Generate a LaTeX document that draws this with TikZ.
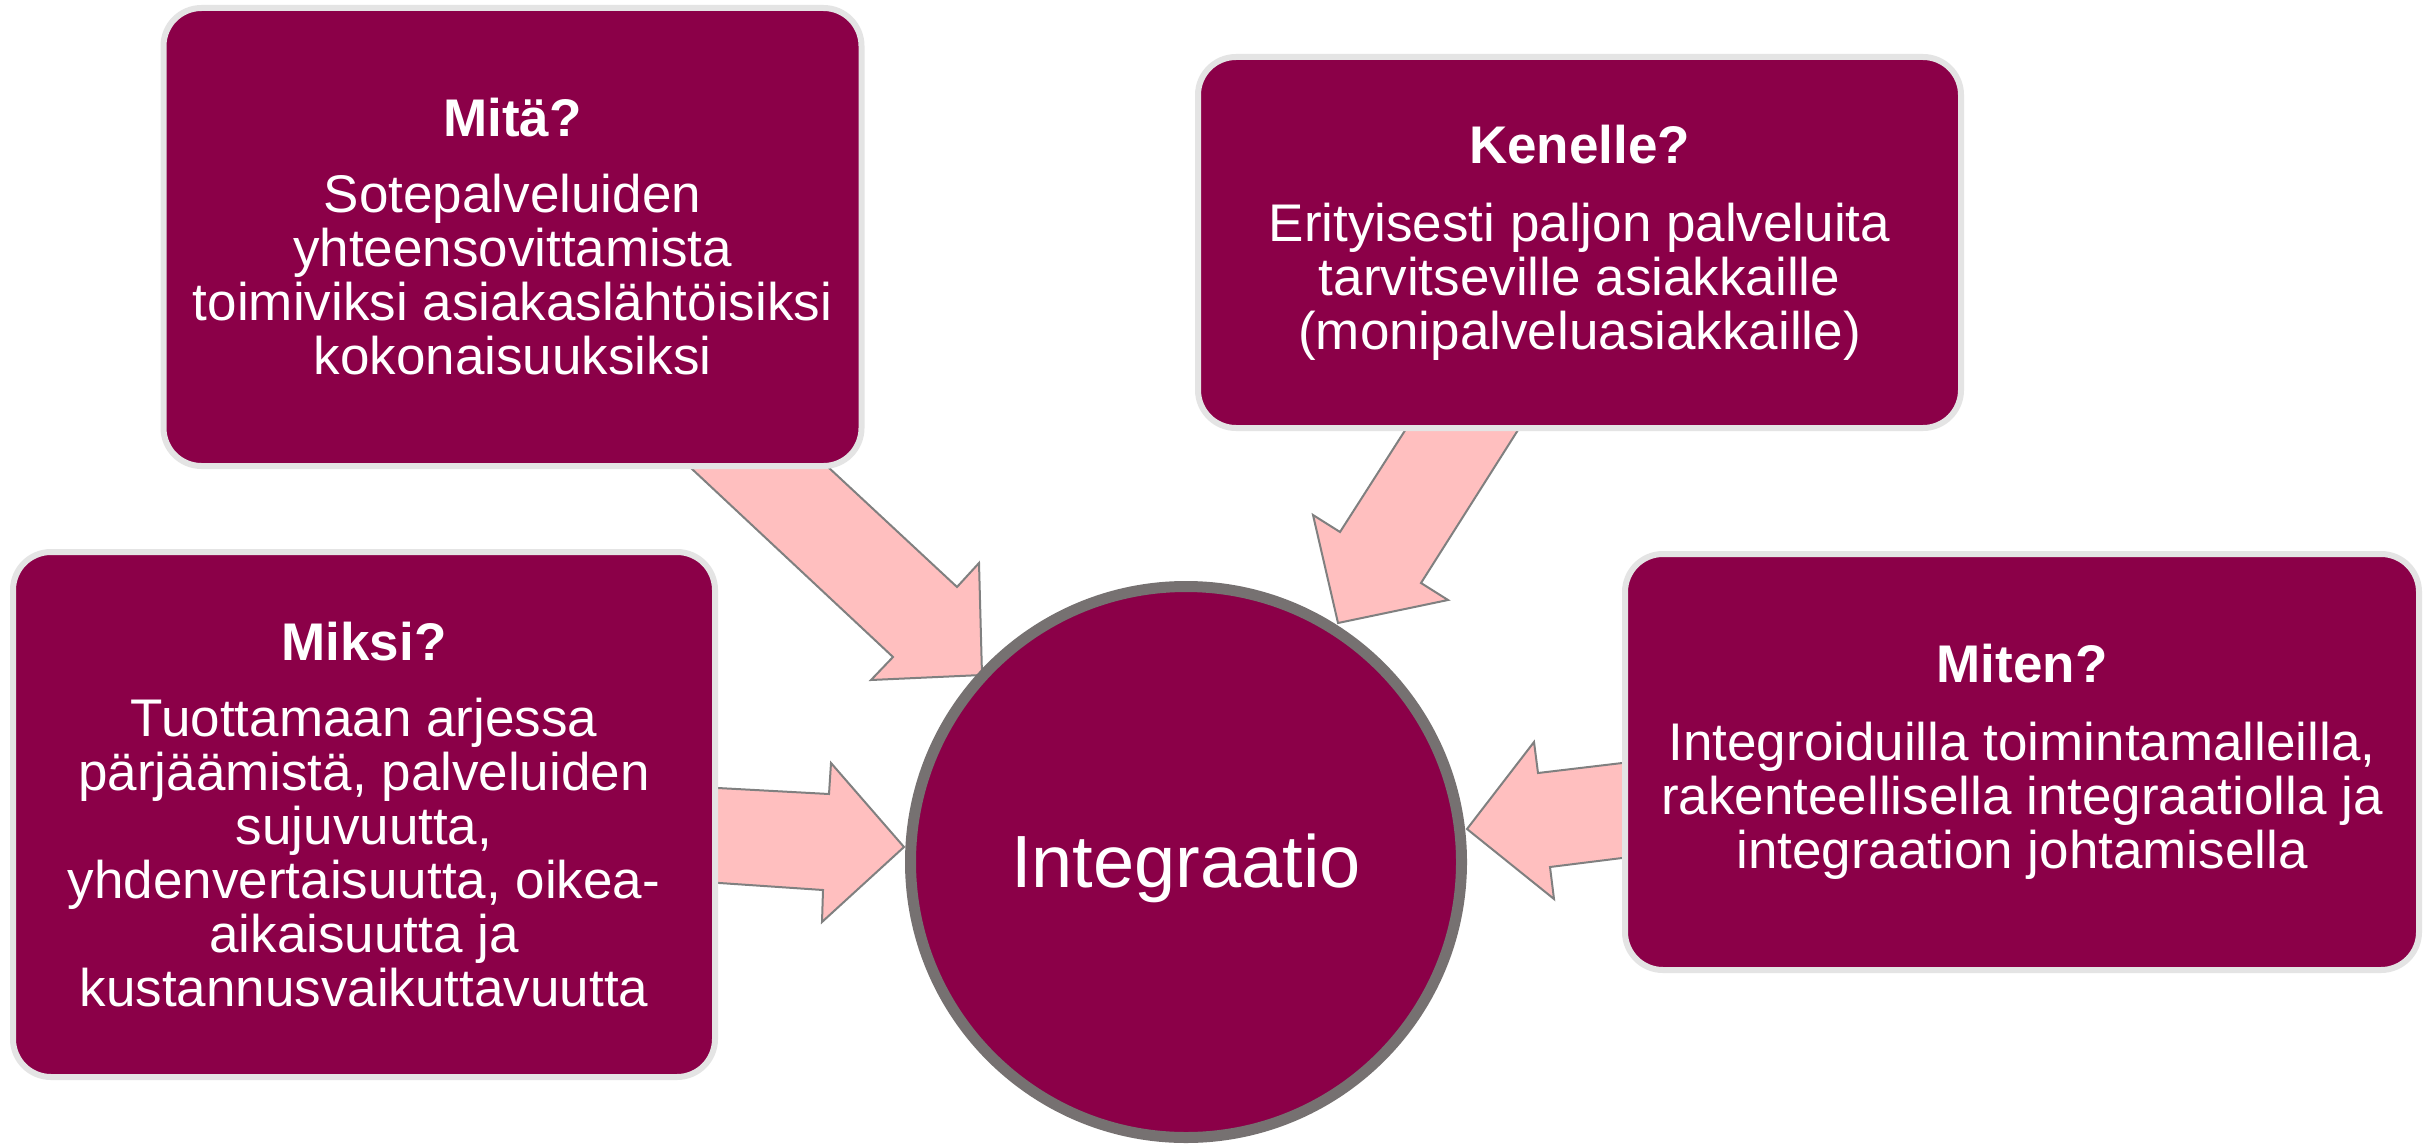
\documentclass[tikz,border=0pt]{standalone}
\usepackage{fontspec}
\setmainfont{Liberation Sans}
\definecolor{boxc}{HTML}{8B0048}
\definecolor{pinkc}{HTML}{FFBFBF}
\definecolor{arrowline}{HTML}{808080}
\definecolor{circline}{HTML}{767171}
\definecolor{boxline}{HTML}{E4E4E4}
\begin{document}
\begin{tikzpicture}[x=1pt,y=-1pt,
  infobox/.style={rectangle, rounded corners=38pt, fill=boxc, draw=boxline, line width=6pt,
    text=white, align=center, font=\fontsize{53}{54}\selectfont, inner sep=0pt},
  blockarrow/.style={fill=pinkc, draw=arrowline, line width=2pt, line join=miter}]
\useasboundingbox[fill=white] (0,0) rectangle (2432,1145);

% block arrows
\draw[blockarrow] (661,440) -- (893,657) -- (871,680) -- (982,675) -- (979,563) -- (957,587) -- (799,440) -- cycle;
\draw[blockarrow] (1424.5,400) -- (1340,532) -- (1313,515) -- (1338,623) -- (1448,600) -- (1421,583) -- (1537,400) -- cycle;
\draw[blockarrow] (690,786.5) -- (829,794) -- (831,763) -- (904,847) -- (822,922) -- (823,890) -- (690,881) -- cycle;
\draw[blockarrow] (1650,759.7) -- (1538,773) -- (1534,742) -- (1467,829) -- (1554,899) -- (1550,867) -- (1650,854.5) -- cycle;

% boxes
\node[infobox, minimum width=698pt, minimum height=458pt] (mita) at (512.5,237)
  {\textbf{Mitä?}\\[22pt]Sotepalveluiden\\yhteensovittamista\\toimiviksi asiakaslähtöisiksi\\kokonaisuuksiksi};
\node[infobox, minimum width=763pt, minimum height=371pt] (kenelle) at (1579.5,242.5)
  {\textbf{Kenelle?}\\[24pt]Erityisesti paljon palveluita\\tarvitseville asiakkaille\\(monipalveluasiakkaille)};
\node[infobox, minimum width=702pt, minimum height=525pt] (miksi) at (364,814.5)
  {\textbf{Miksi?}\\[22pt]Tuottamaan arjessa\\pärjäämistä, palveluiden\\sujuvuutta,\\yhdenvertaisuutta, oikea-\\aikaisuutta ja\\kustannusvaikuttavuutta};
\node[infobox, minimum width=794pt, minimum height=416pt] (miten) at (2022,762)
  {\textbf{Miten?}\\[24pt]Integroiduilla toimintamalleilla,\\rakenteellisella integraatiolla ja\\integraation johtamisella};

% centre circle
\node[circle, fill=boxc, draw=circline, line width=11pt, minimum size=551pt, inner sep=0pt] (integ) at (1186,862) {};
\node[text=white, font=\fontsize{74}{80}\selectfont, inner sep=0pt] (integlabel) at (1186,868) {Integraatio};
\end{tikzpicture}
\end{document}
